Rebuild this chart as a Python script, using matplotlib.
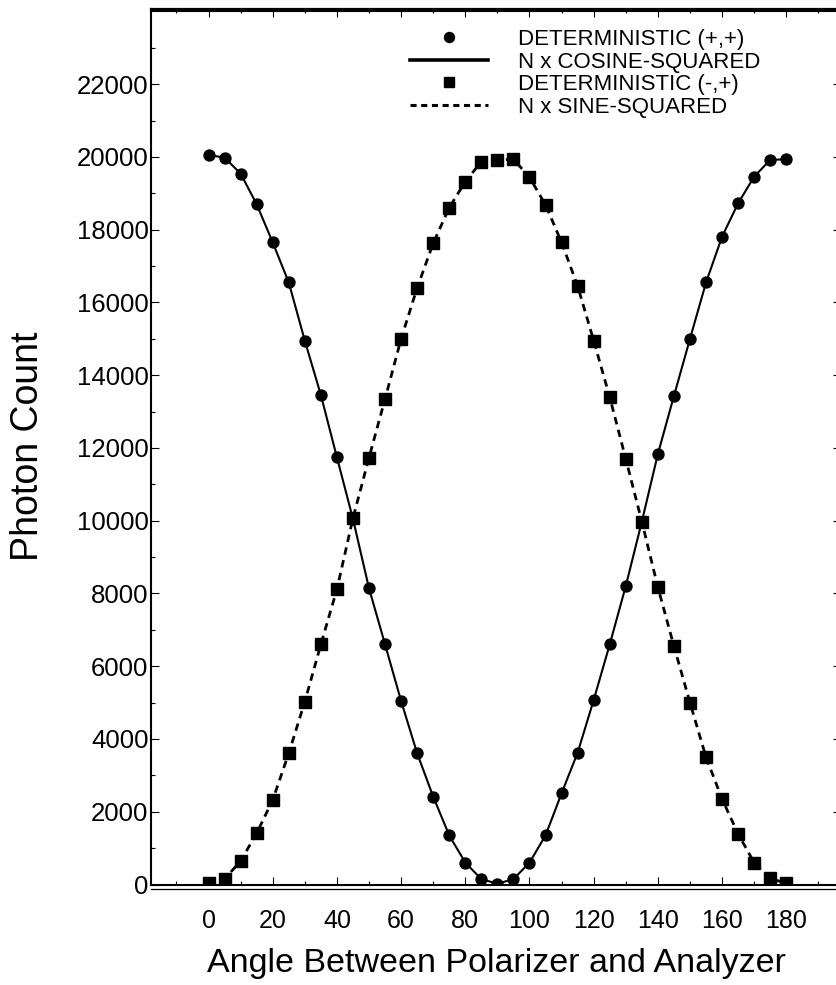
import matplotlib
matplotlib.use("Agg")
import matplotlib.pyplot as plt
from matplotlib.lines import Line2D
from matplotlib.transforms import ScaledTranslation

plt.rcParams['font.family'] = ['Liberation Sans', 'DejaVu Sans']

# ---- data ----
angles = [0, 5, 10, 15, 20, 25, 30, 35, 40, 45, 50, 55, 60, 65, 70, 75, 80, 85, 90,
          95, 100, 105, 110, 115, 120, 125, 130, 135, 140, 145, 150, 155, 160, 165, 170, 175, 180]
plus_plus = [20055, 19981, 19541, 18700, 17650, 16550, 14950, 13457, 11744, 10050, 8143, 6600,
             5045, 3607, 2414, 1350, 600, 150, 20,
             150, 600, 1350, 2507, 3623, 5072, 6600, 8206, 9975, 11835, 13430, 15000, 16550,
             17809, 18727, 19459, 19918, 19937]
minus_plus = [30, 150, 646, 1407, 2323, 3607, 5026, 6600, 8115, 10067, 11733, 13347,
              15000, 16400, 17628, 18606, 19321, 19871, 19918,
              19937, 19442, 18680, 17650, 16450, 14950, 13394, 11698, 9975, 8170, 6550, 4998,
              3497, 2351, 1388, 600, 170, 30]
xtick_vals = [0, 20, 40, 60, 80, 100, 120, 140, 160, 180]
ytick_vals = [0, 2000, 4000, 6000, 8000, 10000, 12000, 14000, 16000, 18000, 20000, 22000]
legend_labels = ["DETERMINISTIC (+,+)", "N x COSINE-SQUARED",
                 "DETERMINISTIC (-,+)", "N x SINE-SQUARED"]
xlabel = "Angle Between Polarizer and Analyzer"
ylabel = "Photon Count"

W, H = 837, 985
fig = plt.figure(figsize=(W / 100, H / 100), dpi=100)
ax = fig.add_axes([151.5 / W, (H - 884.5) / H, 690 / W, 876 / H])

ax.set_xlim(-17.76, 197.2)
ax.set_ylim(0, 24080)

# curves
ax.plot(angles, plus_plus, color='black', lw=1.5, zorder=2)
ax.plot(angles, minus_plus, color='black', lw=2.0, dashes=(2.7, 2.0), zorder=2)
ax.plot(angles, plus_plus, ls='none', marker='o', ms=7.9, color='black', zorder=3)
ax.plot(angles, minus_plus, ls='none', marker='s', ms=8.2, color='black', zorder=3)

# frame
for s in ['left', 'right', 'bottom']:
    ax.spines[s].set_linewidth(1.5)
ax.spines['top'].set_linewidth(2.3)
ax.axhline(24000, color='black', lw=0.8, zorder=1)
off = ScaledTranslation(0, -3.0 / 72, fig.dpi_scale_trans)
ax.plot([0, 1], [0, 0], transform=ax.transAxes + off, clip_on=False, color='black', lw=0.9)

# ticks
ax.set_xticks(xtick_vals)
ax.set_xticks(list(range(-10, 200, 10)), minor=True)
ax.set_yticks(ytick_vals)
ax.set_yticks(list(range(1000, 24000, 2000)), minor=True)
ax.tick_params(which='both', direction='in', top=True, right=True, width=0.8, color='black')
ax.tick_params(which='major', length=6.0)
ax.tick_params(which='minor', length=3.0)
ax.tick_params(axis='x', which='major', labelsize=18, pad=17.4)
ax.tick_params(axis='y', which='major', labelsize=18.5, pad=2.2)

ax.set_xlabel(xlabel, fontsize=24.5)
ax.set_ylabel(ylabel, fontsize=27)
ax.xaxis.set_label_coords(0.5, -0.073)
ax.yaxis.set_label_coords(-0.153, 0.5)

handles = [
    Line2D([], [], ls='none', marker='o', ms=7.2, color='black'),
    Line2D([], [], color='black', lw=2.6),
    Line2D([], [], ls='none', marker='s', ms=7.2, color='black'),
    Line2D([], [], color='black', lw=2.2, dashes=(2.0, 1.5)),
]
ax.legend(handles, legend_labels, loc='upper left', bbox_to_anchor=(0.3746, 0.9766),
          frameon=False, fontsize=16, handlelength=3.5, handletextpad=1.35,
          labelspacing=0.07, borderpad=0, borderaxespad=0)

fig.savefig('out.png', dpi=100)
